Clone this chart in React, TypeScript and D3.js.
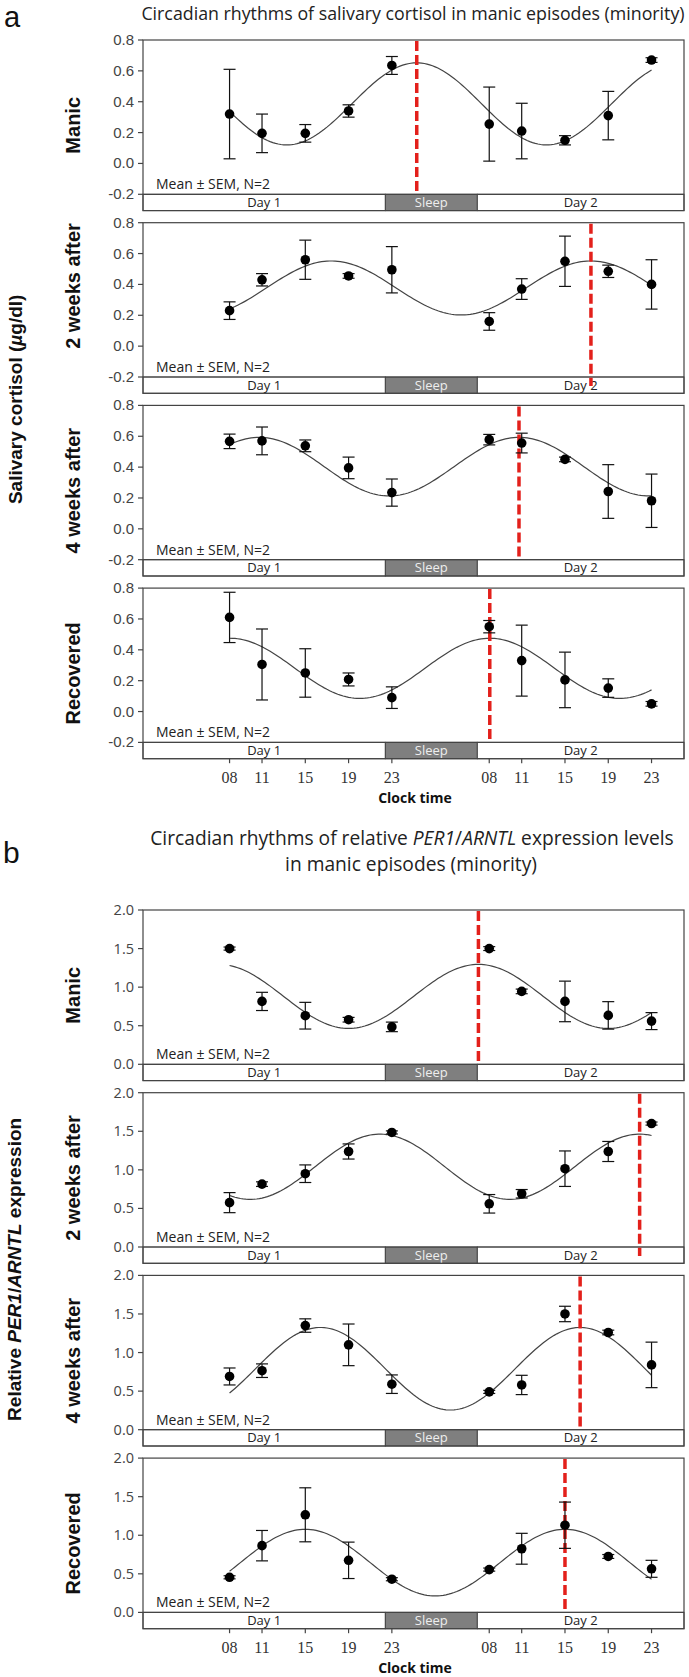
import React from 'react';
import * as d3 from 'd3';

// sampling clock times (hours from 00:00 of day 1)
const hours = [8, 11, 15, 19, 23, 32, 35, 39, 43, 47];
const hourLabels = ['08', '11', '15', '19', '23', '08', '11', '15', '19', '23'];
const stages = ['Manic', '2 weeks after', '4 weeks after', 'Recovered'];

const bandLabels = ['Day 1', 'Sleep', 'Day 2'];
const bandStarts = [0, 22.4, 30.9];
const bandEnds = [22.4, 30.9, 50];

// a: salivary cortisol
const cortisolMean = [
  [0.32, 0.195, 0.195, 0.34, 0.635, 0.255, 0.21, 0.15, 0.31, 0.67],
  [0.23, 0.43, 0.56, 0.455, 0.495, 0.16, 0.37, 0.55, 0.485, 0.4],
  [0.567, 0.57, 0.538, 0.395, 0.235, 0.578, 0.556, 0.45, 0.242, 0.182],
  [0.61, 0.305, 0.25, 0.208, 0.09, 0.55, 0.33, 0.205, 0.152, 0.05],
];
const cortisolSem = [
  [0.29, 0.125, 0.057, 0.04, 0.058, 0.24, 0.18, 0.03, 0.157, 0.015],
  [0.057, 0.04, 0.127, 0.015, 0.15, 0.057, 0.067, 0.163, 0.04, 0.16],
  [0.047, 0.09, 0.038, 0.07, 0.088, 0.034, 0.064, 0.015, 0.174, 0.173],
  [0.163, 0.23, 0.157, 0.042, 0.07, 0.04, 0.23, 0.18, 0.06, 0.015],
];
// cosinor fit (mesor, amplitude, acrophase in hours)
const cortisolMesor = [0.386, 0.377, 0.403, 0.28];
const cortisolAmp = [0.266, 0.175, 0.19, 0.195];
const cortisolAcro = [25.3, 41.4, 34.75, 32.05];
const cortisolTicks = [-0.2, 0, 0.2, 0.4, 0.6, 0.8];

// b: PER1/ARNTL
const perMean = [
  [1.5, 0.815, 0.63, 0.578, 0.485, 1.5, 0.945, 0.815, 0.634, 0.56],
  [0.575, 0.815, 0.95, 1.238, 1.485, 0.56, 0.69, 1.015, 1.238, 1.6],
  [0.69, 0.765, 1.35, 1.1, 0.59, 0.49, 0.58, 1.5, 1.26, 0.84],
  [0.455, 0.865, 1.265, 0.675, 0.43, 0.555, 0.825, 1.13, 0.725, 0.565],
];
const perSem = [
  [0.02, 0.118, 0.173, 0.03, 0.062, 0.025, 0.03, 0.263, 0.178, 0.11],
  [0.13, 0.03, 0.114, 0.098, 0.02, 0.12, 0.055, 0.23, 0.13, 0.02],
  [0.11, 0.088, 0.087, 0.27, 0.12, 0.02, 0.125, 0.1, 0.03, 0.295],
  [0.02, 0.197, 0.35, 0.236, 0.02, 0.02, 0.2, 0.3, 0.025, 0.11],
];
const perMesor = [0.88, 1.04, 0.79, 0.645];
const perAmp = [0.415, 0.423, 0.535, 0.432];
const perAcro = [31, 45.9, 40.4, 39];
const perTicks = [0, 0.5, 1, 1.5, 2];

const dashIntoBand = [false, true, false, false];

const W = 689, H = 1677;
const PLOT_H = 154.3, BAND_H = 16.3, PITCH = 182.7;
const x = d3.scaleLinear().domain([0, 50]).range([143, 684]);

function Panel({ top, domain, ticks, tickFont, tickSize, mean, sem, mesor, amp, acro, label, intoBand, labelShift = 0 }) {
  const base = top + PLOT_H;
  const bottom = base + BAND_H;
  const y = d3.scaleLinear().domain(domain).range([base, top]);
  const x0 = x(0), x1 = x(50);

  const fitHours = d3.range(8, 47.001, 0.25);
  const line = d3.line<number>()
    .x(h => x(h))
    .y(h => y(mesor + amp * Math.cos(2 * Math.PI * (h - acro) / 24)));

  return (
    <g>
      {bandLabels.map((b, i) => (
        <g key={b}>
          <rect x={x(bandStarts[i])} y={base} width={x(bandEnds[i]) - x(bandStarts[i])} height={BAND_H}
            fill={b === 'Sleep' ? '#7f7f7f' : '#fff'} stroke="#444" strokeWidth={1} />
          <text x={(x(bandStarts[i]) + x(bandEnds[i])) / 2} y={base + 12.5} textAnchor="middle"
            fontFamily="Open Sans" fontSize={13} fill={b === 'Sleep' ? '#eee' : '#222'}>{b}</text>
        </g>
      ))}
      <rect x={x0} y={top} width={x1 - x0} height={bottom - top} fill="none" stroke="#444" strokeWidth={1.2} />
      {ticks.map(t => (
        <g key={t}>
          <line x1={x0 - 5} x2={x0} y1={y(t)} y2={y(t)} stroke="#444" strokeWidth={1.2} />
          <text x={x0 - 9} y={y(t) + 5} textAnchor="end" fontFamily={tickFont} fontSize={tickSize} fill="#444">{t.toFixed(1)}</text>
        </g>
      ))}
      <line x1={x0} x2={x1} y1={base} y2={base} stroke="#444" strokeWidth={1.2} />
      <text x={156} y={base - 5} fontFamily="Open Sans" fontSize={14} fill="#222">Mean ± SEM, N=2</text>
      <path d={line(fitHours) || ''} fill="none" stroke="#444" strokeWidth={1.2} />
      <line x1={x(acro)} x2={x(acro)} y1={top + 1} y2={intoBand ? base + 9 : base} stroke="#e3201b" strokeWidth={3.5} strokeDasharray="10,4" />
      {hours.map((h, i) => (
        <g key={i} stroke="#111" strokeWidth={1.2}>
          <line x1={x(h)} x2={x(h)} y1={y(mean[i] - sem[i])} y2={y(mean[i] + sem[i])} />
          <line x1={x(h) - 6} x2={x(h) + 6} y1={y(mean[i] - sem[i])} y2={y(mean[i] - sem[i])} />
          <line x1={x(h) - 6} x2={x(h) + 6} y1={y(mean[i] + sem[i])} y2={y(mean[i] + sem[i])} />
        </g>
      ))}
      {hours.map((h, i) => (
        <circle key={i} cx={x(h)} cy={y(mean[i])} r={4.8} fill="#000" />
      ))}
      <text transform={`translate(80,${(top + bottom) / 2 + labelShift}) rotate(-90)`} textAnchor="middle"
        fontFamily="Liberation Sans" fontWeight="bold" fontSize={20} fill="#111">{label}</text>
    </g>
  );
}

function TimeAxis({ bottom }) {
  return (
    <g>
      {hours.map((h, i) => (
        <g key={i}>
          <line x1={x(h)} x2={x(h)} y1={bottom} y2={bottom + 4.5} stroke="#444" strokeWidth={1.2} />
          <text x={x(h)} y={bottom + 24} textAnchor="middle" fontFamily="Liberation Serif" fontSize={16} fill="#333">{hourLabels[i]}</text>
        </g>
      ))}
      <text x={415} y={bottom + 44.5} textAnchor="middle" fontFamily="Open Sans" fontWeight="bold" fontSize={14} fill="#111">Clock time</text>
    </g>
  );
}

export default function App() {
  const aTop = 40, bTop = 910;
  const aBottom = aTop + 3 * PITCH + PLOT_H + BAND_H;
  const bBottom = bTop + 3 * PITCH + PLOT_H + BAND_H;
  return (
    <svg width={W} height={H} style={{ position: 'absolute', left: 0, top: 0, background: '#fff' }}>
      <text x={4} y={26.5} fontFamily="Liberation Sans" fontSize={29} fill="#111">a</text>
      <text x={413} y={19.5} textAnchor="middle" fontFamily="Open Sans" fontSize={17.8} fill="#222">
        Circadian rhythms of salivary cortisol in manic episodes (minority)
      </text>
      {stages.map((s, i) => (
        <Panel key={'a' + i} top={aTop + i * PITCH} domain={[-0.2, 0.8]} ticks={cortisolTicks}
          tickFont="Liberation Sans" tickSize={15} mean={cortisolMean[i]} sem={cortisolSem[i]}
          mesor={cortisolMesor[i]} amp={cortisolAmp[i]} acro={cortisolAcro[i]} label={s}
          intoBand={dashIntoBand[i]} labelShift={i === 1 ? -22 : 0} />
      ))}
      <TimeAxis bottom={aBottom} />
      <text transform={`translate(22,${(aTop + aBottom) / 2}) rotate(-90)`} textAnchor="middle"
        fontFamily="Liberation Sans" fontWeight="bold" fontSize={19} fill="#111">
        Salivary cortisol (<tspan fontStyle="italic">µ</tspan>g/dl)
      </text>

      <text x={3} y={863} fontFamily="Liberation Sans" fontSize={30} fill="#111">b</text>
      <text x={412} y={844.5} textAnchor="middle" fontFamily="Open Sans" fontSize={19.2} fill="#222">
        Circadian rhythms of relative <tspan fontStyle="italic">PER1</tspan>/<tspan fontStyle="italic">ARNTL</tspan> expression levels
      </text>
      <text x={411} y={871} textAnchor="middle" fontFamily="Open Sans" fontSize={19.2} fill="#222">
        in manic episodes (minority)
      </text>
      {stages.map((s, i) => (
        <Panel key={'b' + i} top={bTop + i * PITCH} domain={[0, 2]} ticks={perTicks}
          tickFont="Open Sans" tickSize={14.5} mean={perMean[i]} sem={perSem[i]}
          mesor={perMesor[i]} amp={perAmp[i]} acro={perAcro[i]} label={s} intoBand={dashIntoBand[i]} />
      ))}
      <TimeAxis bottom={bBottom} />
      <text transform={`translate(21,${(bTop + bBottom) / 2}) rotate(-90)`} textAnchor="middle"
        fontFamily="Liberation Sans" fontWeight="bold" fontSize={19} fill="#111">
        Relative <tspan fontStyle="italic">PER1</tspan>/<tspan fontStyle="italic">ARNTL</tspan> expression
      </text>
    </svg>
  );
}
